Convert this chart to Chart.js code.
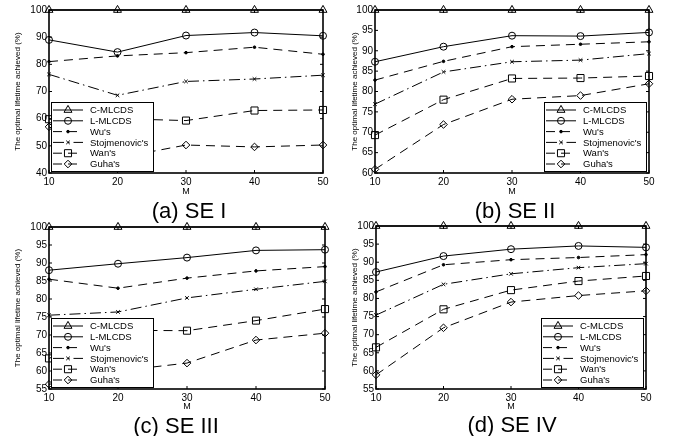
<!DOCTYPE html>
<html>
<head>
<meta charset="utf-8">
<script src="https://cdn.jsdelivr.net/npm/chart.js@4.4.0/dist/chart.umd.min.js"></script>
<style>
    body { margin: 0; background: #fff; width: 674px; height: 436px; overflow: hidden; position: relative; font-family: "Liberation Sans", Arial, sans-serif; }
    canvas { position: absolute; }
    .cap { position: absolute; font-size: 22px; color: #000; white-space: nowrap; transform: translate(-50%, -50%); }
</style>
</head>
<body>
<canvas id="chartA" width="337" height="200" style="left:0;top:0"></canvas>
<canvas id="chartB" width="337" height="200" style="left:337px;top:0"></canvas>
<canvas id="chartC" width="337" height="200" style="left:0;top:215px"></canvas>
<canvas id="chartD" width="337" height="200" style="left:337px;top:215px"></canvas>
<div class="cap" style="left:189px;top:211px">(a) SE I</div>
<div class="cap" style="left:515px;top:211px">(b) SE II</div>
<div class="cap" style="left:176px;top:426px">(c) SE III</div>
<div class="cap" style="left:512px;top:425px">(d) SE IV</div>
<script>
const M = ["10", "20", "30", "40", "50"];
const seriesNames = ["C-MLCDS", "L-MLCDS", "Wu's", "Stojmenovic's", "Wan's", "Guha's"];
const yTitle = "The optimal lifetime achieved (%)";

// SE I
const seI_C = [100, 100, 100, 100, 100];
const seI_L = [89.0, 84.5, 90.6, 91.7, 90.5];
const seI_Wu = [81.0, 83.1, 84.3, 86.3, 83.7];
const seI_Stoj = [76.3, 68.6, 73.7, 74.6, 76.0];
const seI_Wan = [59.8, 60.0, 59.3, 63.0, 63.2];
const seI_Guha = [57.0, 45.5, 50.3, 49.6, 50.3];

// SE II
const seII_C = [100, 100, 100, 100, 100];
const seII_L = [87.3, 91.0, 93.7, 93.6, 94.5];
const seII_Wu = [82.8, 87.4, 91.0, 91.6, 92.2];
const seII_Stoj = [76.9, 84.8, 87.3, 87.7, 89.3];
const seII_Wan = [69.3, 78.0, 83.2, 83.3, 83.8];
const seII_Guha = [60.9, 71.9, 78.1, 79.0, 81.9];

// SE III
const seIII_C = [100, 100, 100, 100, 100];
const seIII_L = [88.0, 89.8, 91.5, 93.5, 93.7];
const seIII_Wu = [85.5, 83.0, 85.8, 87.8, 89.0];
const seIII_Stoj = [75.5, 76.4, 80.3, 82.7, 84.9];
const seIII_Wan = [63.5, 71.3, 71.2, 74.0, 77.2];
const seIII_Guha = [56.3, 60.0, 62.2, 68.6, 70.5];

// SE IV
const seIV_C = [100, 100, 100, 100, 100];
const seIV_L = [87.3, 91.7, 93.6, 94.5, 94.1];
const seIV_Wu = [81.8, 89.3, 90.7, 91.3, 92.1];
const seIV_Stoj = [75.4, 83.9, 86.8, 88.5, 89.6];
const seIV_Wan = [66.5, 77.0, 82.3, 84.8, 86.2];
const seIV_Guha = [58.9, 71.9, 79.0, 80.8, 82.1];

const styles = [
    { dash: [], point: "triangle", r: 4.6, fill: "rgba(0,0,0,0)" },
    { dash: [], point: "circle", r: 3.5, fill: "rgba(0,0,0,0)" },
    { dash: [9, 6], point: "circle", r: 1.3, fill: "#000" },
    { dash: [11, 4, 1.5, 4], point: "crossRot", r: 2.5, fill: "rgba(0,0,0,0)" },
    { dash: [9, 6], point: "rect", r: 5, fill: "rgba(0,0,0,0)" },
    { dash: [9, 6], point: "rectRot", r: 3.8, fill: "rgba(0,0,0,0)" },
];

Chart.defaults.color = "#000";
Chart.defaults.font.family = '"Liberation Sans", Arial, sans-serif';

function drawMarker(ctx, st, x, y) {
    const r = st.r;
    ctx.beginPath();
    if (st.point === "triangle") {
        ctx.moveTo(x, y - r);
        ctx.lineTo(x + r * 0.866, y + r / 2);
        ctx.lineTo(x - r * 0.866, y + r / 2);
        ctx.closePath();
    } else if (st.point === "circle") {
        ctx.arc(x, y, r, 0, Math.PI * 2);
    } else if (st.point === "rect") {
        const s = r * Math.SQRT1_2;
        ctx.rect(x - s, y - s, 2 * s, 2 * s);
    } else if (st.point === "rectRot") {
        ctx.moveTo(x, y - r); ctx.lineTo(x + r, y); ctx.lineTo(x, y + r); ctx.lineTo(x - r, y);
        ctx.closePath();
    } else if (st.point === "crossRot") {
        const s = r * Math.SQRT1_2;
        ctx.moveTo(x - s, y - s); ctx.lineTo(x + s, y + s);
        ctx.moveTo(x + s, y - s); ctx.lineTo(x - s, y + s);
    }
    ctx.fillStyle = st.fill;
    ctx.fill();
    ctx.stroke();
}

const frameLegend = {
    id: "frameLegend",
    afterDatasetsDraw(chart, args, opts) {
        const { ctx, chartArea: a, scales } = chart;
        ctx.save();
        ctx.strokeStyle = "#000";
        ctx.lineWidth = 1;
        ctx.setLineDash([]);
        const seg = (x1, y1, x2, y2) => { ctx.beginPath(); ctx.moveTo(x1, y1); ctx.lineTo(x2, y2); ctx.stroke(); };
        scales.y.ticks.forEach((t, i) => {
            const py = scales.y.getPixelForTick(i);
            seg(a.left, py, a.left + 3, py);
            seg(a.right - 3, py, a.right, py);
        });
        scales.x.ticks.forEach((t, i) => {
            const px = scales.x.getPixelForTick(i);
            seg(px, a.bottom, px, a.bottom - 3);
            seg(px, a.top, px, a.top + 3);
        });
        ctx.lineWidth = 1.6;
        ctx.strokeRect(a.left, a.top, a.width, a.height);

        // legend box inside the plot
        const bw = 103, bh = 70;
        const bx = opts.side === "left" ? a.left + 2 : a.right - 2 - bw;
        const by = a.bottom - 1 - bh;
        ctx.lineWidth = 1;
        ctx.fillStyle = "#fff";
        ctx.fillRect(bx, by, bw, bh);
        ctx.strokeRect(bx + 0.5, by + 0.5, bw - 1, bh - 1);
        ctx.font = '9.5px "Liberation Sans", Arial, sans-serif';
        ctx.textBaseline = "middle";
        chart.data.datasets.forEach((ds, i) => {
            const st = styles[i];
            const ry = by + 8 + i * 10.8;
            ctx.setLineDash(st.dash);
            seg(bx + 2, ry, bx + 32, ry);
            ctx.setLineDash([]);
            drawMarker(ctx, st, bx + 17, ry);
            ctx.fillStyle = "#000";
            ctx.fillText(ds.label, bx + 39, ry + 0.5);
        });
        ctx.restore();
    },
};

function makeChart(id, series, yMin, yMax, step, area, side) {
    const W = 337, H = 200;
    const datasets = series.map((vals, i) => ({
        label: seriesNames[i],
        data: vals,
        borderColor: "#000",
        borderWidth: 1,
        borderDash: styles[i].dash,
        pointStyle: styles[i].point,
        pointRadius: styles[i].r,
        pointBackgroundColor: styles[i].fill,
        pointBorderColor: "#000",
        pointBorderWidth: 1,
        tension: 0,
        fill: false,
        clip: false,
    }));
    return new Chart(document.getElementById(id), {
        type: "line",
        data: { labels: M, datasets },
        options: {
            responsive: false,
            animation: false,
            devicePixelRatio: 1,
            layout: { padding: { left: 0, top: area.top, right: W - area.right, bottom: 0 } },
            plugins: {
                legend: { display: false },
                tooltip: { enabled: false },
                frameLegend: { side },
            },
            scales: {
                x: {
                    type: "category",
                    offset: false,
                    grid: { display: false, drawTicks: false },
                    border: { display: false },
                    ticks: { font: { size: 10 }, padding: 3, maxRotation: 0, autoSkip: false },
                    title: { display: true, text: "M", font: { size: 9 }, padding: { top: 0, bottom: 3 } },
                    afterFit(s) { s.height = H - area.bottom; },
                },
                y: {
                    min: yMin,
                    max: yMax,
                    grid: { display: false, drawTicks: false },
                    border: { display: false },
                    ticks: { stepSize: step, font: { size: 10 }, padding: 2 },
                    title: { display: true, text: yTitle, font: { size: 8 }, padding: { top: 13, bottom: 0 } },
                    afterFit(s) { s.width = area.left; },
                },
            },
        },
        plugins: [frameLegend],
    });
}

makeChart("chartA", [seI_C, seI_L, seI_Wu, seI_Stoj, seI_Wan, seI_Guha], 40, 100, 10,
    { left: 49, right: 323, top: 10, bottom: 173 }, "left");
makeChart("chartB", [seII_C, seII_L, seII_Wu, seII_Stoj, seII_Wan, seII_Guha], 60, 100, 5,
    { left: 38, right: 312, top: 10, bottom: 173 }, "right");
makeChart("chartC", [seIII_C, seIII_L, seIII_Wu, seIII_Stoj, seIII_Wan, seIII_Guha], 55, 100, 5,
    { left: 49, right: 325, top: 12, bottom: 174 }, "left");
makeChart("chartD", [seIV_C, seIV_L, seIV_Wu, seIV_Stoj, seIV_Wan, seIV_Guha], 55, 100, 5,
    { left: 39, right: 309, top: 11, bottom: 174 }, "right");
</script>
</body>
</html>
